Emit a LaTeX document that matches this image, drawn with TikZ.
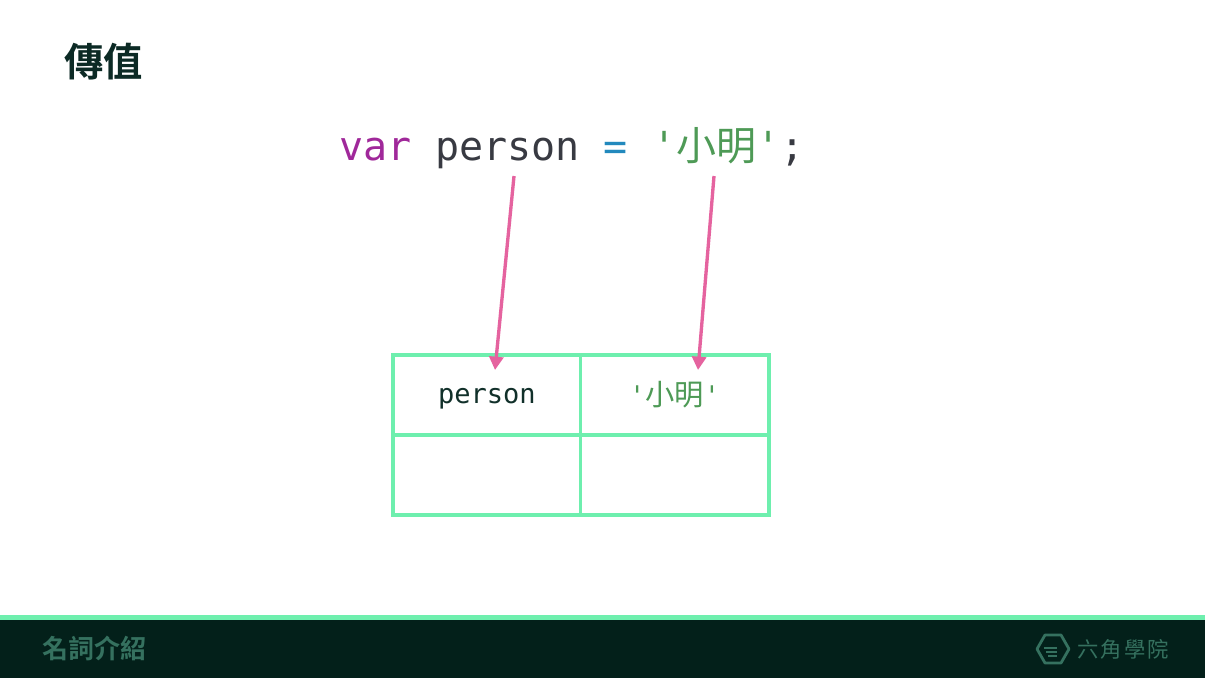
\documentclass[tikz,border=0pt]{standalone}
\usepackage{fontspec}
\usetikzlibrary{arrows.meta}
\newfontfamily\cjk{Noto Sans CJK TC}
\newfontfamily\cjkb{Noto Sans CJK TC Bold}
\newfontfamily\monof{DejaVu Sans Mono}
\definecolor{mint}{HTML}{6EEFAE}
\definecolor{darkbar}{HTML}{03201A}
\definecolor{titlec}{HTML}{0C2A25}
\definecolor{footc}{HTML}{35715F}
\definecolor{pinkc}{HTML}{E5639F}
\definecolor{varc}{HTML}{A0289A}
\definecolor{namec}{HTML}{383A42}
\definecolor{opc}{HTML}{2289BD}
\definecolor{strc}{HTML}{4E9A56}
\definecolor{cellc}{HTML}{11302A}
\tikzset{
  x=0.75pt,y=-0.75pt,
  txt/.style={inner sep=0pt,outer sep=0pt,anchor=base west},
  gridline/.style={draw=mint,line width=2.8pt},
  pointer/.style={draw=pinkc,line width=2.5pt,-{Triangle[length=10pt,width=10.5pt]},shorten >=0pt},
}
\begin{document}
\begin{tikzpicture}
\useasboundingbox (0,0) rectangle (1205,678);
\fill[white] (0,0) rectangle (1205,678);
\fill[darkbar] (0,620) rectangle (1205,678);
\fill[mint] (0,615) rectangle (1205,620);
\node[txt,text=titlec] (title) at (64,76) {\fontsize{29.5pt}{32pt}\cjkb 傳值};
\node[txt] (code) at (339,160) {\fontsize{30pt}{34pt}\monof\textcolor{varc}{var} \textcolor{namec}{person} \textcolor{opc}{=} \textcolor{strc}{'{\cjk 小明}'}\textcolor{namec}{;}};
\coordinate (a1) at (514,176);
\coordinate (a2) at (714,176);
\coordinate (b1) at (495,370);
\coordinate (b2) at (698,370);
\draw[gridline] (393,355) rectangle (769,515);
\draw[gridline] (580.5,355) -- (580.5,515);
\draw[gridline] (393,435) -- (769,435);
\node[txt,text=cellc] (cell1) at (438,403) {\fontsize{20.3pt}{24pt}\monof person};
\node[txt,text=strc] (cell2) at (629,405) {\fontsize{20.3pt}{24pt}\monof '{\fontsize{22pt}{24pt}\cjk 小明}'};
\draw[pointer] (a1) -- (b1);
\draw[pointer] (a2) -- (b2);
\node[txt,text=footc] (foot) at (42,658) {\fontsize{19.5pt}{22pt}\cjkb 名詞介紹};
\draw[footc,line width=2.1pt,line join=round] (1037,649) -- (1045,635) -- (1061,635) -- (1069,649) -- (1061,663) -- (1045,663) -- cycle;
\draw[footc,line width=1.4pt] (1044,648) -- (1057,648) (1046,652) -- (1057,652) (1048,656) -- (1057,656);
\node[txt,text=footc] (brand) at (1077,657) {\fontsize{16pt}{20pt}\cjk 六\hspace{1.7pt}角\hspace{1.7pt}學\hspace{1.7pt}院};
\end{tikzpicture}
\end{document}
